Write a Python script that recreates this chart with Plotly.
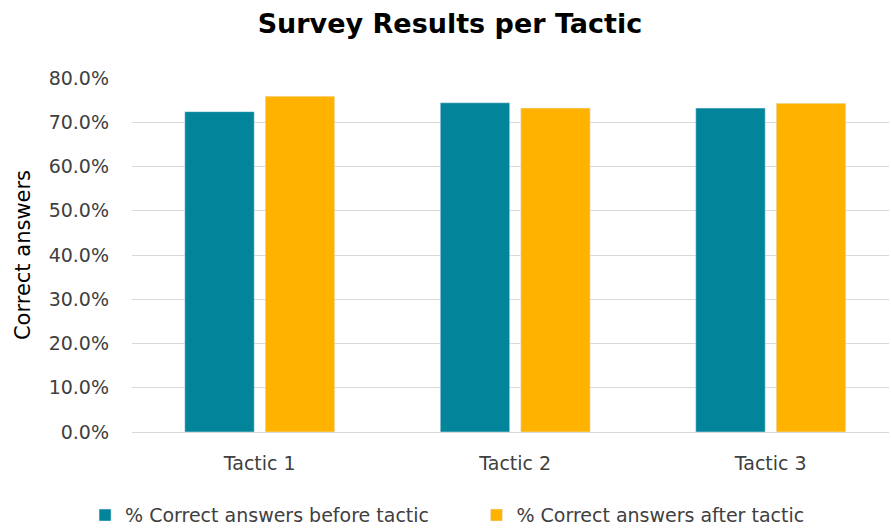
import plotly.graph_objects as go

tactics = ["Tactic 1", "Tactic 2", "Tactic 3"]
before_tactic = [0.724, 0.744, 0.732]
after_tactic = [0.759, 0.732, 0.743]
y_ticks = [0.0, 0.1, 0.2, 0.3, 0.4, 0.5, 0.6, 0.7, 0.8]

font_family = "DejaVu Sans, sans-serif"
label_color = "#404040"

fig = go.Figure()
fig.add_trace(go.Bar(
    x=tactics, y=before_tactic,
    name="% Correct answers before tactic",
    marker=dict(color="#02849A"),
    legend="legend",
))
fig.add_trace(go.Bar(
    x=tactics, y=after_tactic,
    name="% Correct answers after tactic",
    marker=dict(color="#FFB300"),
    legend="legend2",
))

legend_style = dict(
    orientation="h", yanchor="middle", y=-0.235, xanchor="left",
    font=dict(size=19, color=label_color),
    itemwidth=30, bgcolor="rgba(0,0,0,0)",
)

fig.update_layout(
    width=891, height=529,
    paper_bgcolor="white", plot_bgcolor="white",
    margin=dict(l=132, r=2, t=78, b=97, autoexpand=False),
    barmode="group",
    bargap=0.37,
    bargroupgap=0.137,
    title=dict(
        text="<b>Survey Results per Tactic</b>",
        x=0.505, xanchor="center", y=0.955, yanchor="middle",
        font=dict(family=font_family, size=27, color="#000000"),
    ),
    font=dict(family=font_family, color=label_color),
    legend=dict(legend_style, x=-0.062),
    legend2=dict(legend_style, x=0.455),
    showlegend=True,
)

fig.update_yaxes(
    range=[0, 0.8],
    tickvals=y_ticks,
    tickformat=".1%",
    tickfont=dict(size=19, color=label_color),
    showgrid=True, gridcolor="#D9D9D9", gridwidth=1,
    zeroline=False,
    ticks="", ticklen=0, ticklabelstandoff=22,
    title=dict(text="Correct answers", font=dict(size=21, color="#000000"), standoff=12),
)
fig.update_xaxes(
    range=[-0.5, 2.463],
    tickfont=dict(size=19, color=label_color),
    showline=True, linecolor="#D9D9D9", linewidth=1,
    ticks="", ticklabelstandoff=14,
)

fig.write_html("out.html")
